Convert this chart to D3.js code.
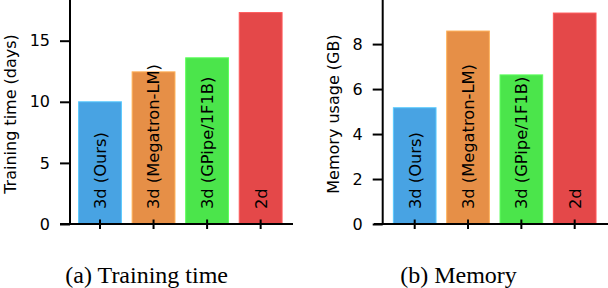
<!DOCTYPE html>
<html><head><meta charset="utf-8">
<script src="https://cdn.jsdelivr.net/npm/d3@7"></script>
<style>body{margin:0;background:#fff}svg{display:block}</style>
</head><body>
<svg id="c" width="608" height="288"></svg>
<script>
const categories = ["3d (Ours)", "3d (Megatron-LM)", "3d (GPipe/1F1B)", "2d"];
const colors = ["#48a3e3", "#e68f47", "#4be54b", "#e44849"];
const trainingDays = [10.0, 12.45, 13.6, 17.3];
const memoryGB = [5.17, 8.58, 6.63, 9.38];
const trainingTicks = [0, 5, 10, 15];
const memoryTicks = [0, 2, 4, 6, 8];
const captions = ["(a) Training time", "(b) Memory"];
const yLabels = ["Training time (days)", "Memory usage (GB)"];

const svg = d3.select("#c");
const panels = [
  {values: trainingDays, ticks: trainingTicks, ymax: 18.33, axisX: 70, xLeft: 60, xRight: 293, firstTick: 100, step: 53.55, ylabX: 10, capX: 146.7, label: yLabels[0], caption: captions[0]},
  {values: memoryGB, ticks: memoryTicks, ymax: 9.96, axisX: 382.7, xLeft: 374, xRight: 608, firstTick: 414.7, step: 53.33, ylabX: 333, capX: 458.5, label: yLabels[1], caption: captions[1]}
];
const y0 = 224;
panels.forEach(p => {
  const g = svg.append("g");
  const x = d3.scaleBand().domain(categories)
    .range([p.firstTick - p.step/2, p.firstTick + p.step*3.5])
    .paddingInner(0.2).paddingOuter(0.1);
  const y = d3.scaleLinear().domain([0, p.ymax]).range([y0, 0]);
  // bars
  g.selectAll("rect").data(p.values).join("rect")
    .attr("x", (d,i) => x(categories[i]))
    .attr("width", x.bandwidth())
    .attr("y", d => y(d))
    .attr("height", d => y(0) - y(d))
    .attr("fill", (d,i) => colors[i])
    .attr("stroke", (d,i) => d3.color(colors[i]).brighter(0.6))
    .attr("stroke-width", 1);
  // bar labels
  g.selectAll("text.bl").data(categories).join("text").attr("class","bl")
    .attr("transform", d => `translate(${x(d) + x.bandwidth()/2},209) rotate(-90)`)
    .attr("dy", "0.36em")
    .attr("font-family", "DejaVu Sans").attr("font-size", 16.3)
    .attr("fill", "#000")
    .text(d => d);
  // y axis
  const ya = d3.axisLeft(y).tickValues(p.ticks).tickSize(10).tickPadding(10).tickFormat(d3.format("d"));
  const yg = g.append("g").attr("transform", `translate(${p.axisX},0)`).call(ya);
  yg.select(".domain").remove();
  yg.selectAll(".tick line").attr("stroke", "#000").attr("stroke-width", 2);
  yg.selectAll(".tick text").attr("font-family", "DejaVu Sans").attr("font-size", 16).attr("fill", "#000");
  g.append("line").attr("x1", p.axisX).attr("x2", p.axisX).attr("y1", 0).attr("y2", y0 + 1)
    .attr("stroke", "#000").attr("stroke-width", 2);
  // x axis
  const xa = d3.axisBottom(x).tickSizeInner(0).tickSizeOuter(0).tickFormat("");
  const xg = g.append("g").attr("transform", `translate(0,${y0})`).call(xa);
  xg.select(".domain").remove();
  xg.selectAll(".tick line").attr("y1", -4.5).attr("y2", 5).attr("stroke", "#000").attr("stroke-width", 2);
  g.append("line").attr("x1", p.xLeft).attr("x2", p.xRight).attr("y1", y0).attr("y2", y0)
    .attr("stroke", "#000").attr("stroke-width", 2);
  // y label
  g.append("text").attr("transform", `translate(${p.ylabX},114) rotate(-90)`)
    .attr("text-anchor", "middle").attr("dy", "0.36em")
    .attr("font-family", "DejaVu Sans").attr("font-size", 16).attr("fill", "#000")
    .text(p.label);
  // caption
  g.append("text").attr("x", p.capX).attr("y", 283).attr("text-anchor", "middle")
    .attr("font-family", "Liberation Serif").attr("font-size", 24).attr("fill", "#000")
    .text(p.caption);
});
</script>
</body></html>
